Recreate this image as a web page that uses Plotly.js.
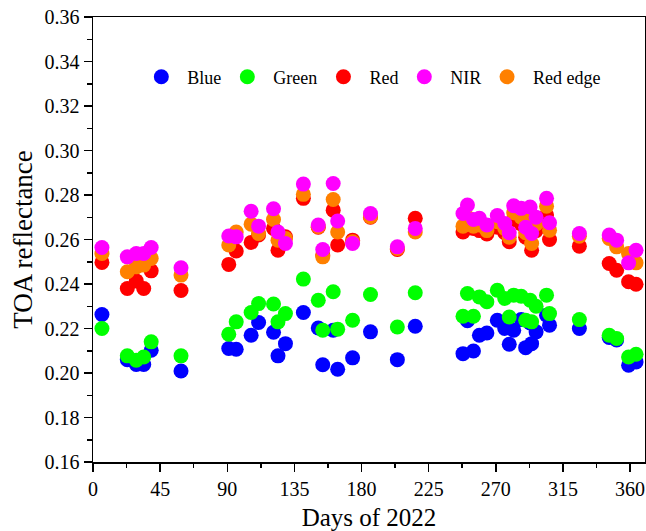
<!DOCTYPE html>
<html>
<head>
<meta charset="utf-8">
<script src="https://cdn.plot.ly/plotly-3.0.1.min.js"></script>
<style>
  html, body { margin: 0; padding: 0; background: #ffffff; }
  #chart { width: 646px; height: 531px; }
</style>
</head>
<body>
<div id="chart"></div>
<script>
// Day of year of each acquisition
const days = [6, 23, 29, 34, 39, 59, 91, 96, 106, 111, 121, 124, 129, 141, 151, 154, 161, 164, 174, 186, 204, 216,
  248, 251, 255, 259, 264, 271, 276, 279, 282, 287, 290, 293, 294, 297, 304, 306, 326, 346, 351, 359, 364];

const blue = [0.2263, 0.2060, 0.2038, 0.2038, 0.2102, 0.2009, 0.2110, 0.2107, 0.2170, 0.2227, 0.2183, 0.2077, 0.2132,
  0.2272, 0.2202, 0.2037, 0.2192, 0.2017, 0.2068, 0.2185, 0.2060, 0.2210,
  0.2087, 0.2235, 0.2099, 0.2170, 0.2180, 0.2237, 0.2200, 0.2129, 0.2192, 0.2240, 0.2114, 0.2225, 0.2132, 0.2185,
  0.2260, 0.2215, 0.2200, 0.2160, 0.2148, 0.2035, 0.2050];

const green = [0.2200, 0.2077, 0.2057, 0.2072, 0.2140, 0.2077, 0.2174, 0.2230, 0.2272, 0.2312, 0.2310, 0.2230, 0.2267,
  0.2422, 0.2327, 0.2192, 0.2365, 0.2197, 0.2237, 0.2353, 0.2207, 0.2361,
  0.2255, 0.2357, 0.2255, 0.2342, 0.2320, 0.2372, 0.2335, 0.2252, 0.2350, 0.2345, 0.2237, 0.2327, 0.2230, 0.2300,
  0.2350, 0.2267, 0.2240, 0.2170, 0.2155, 0.2072, 0.2084];

const red = [0.2497, 0.2380, 0.2414, 0.2380, 0.2459, 0.2371, 0.2488, 0.2548, 0.2587, 0.2620, 0.2650, 0.2552, 0.2612,
  0.2785, 0.2655, 0.2530, 0.2732, 0.2575, 0.2597, 0.2700, 0.2555, 0.2695,
  0.2634, 0.2665, 0.2650, 0.2640, 0.2625, 0.2655, 0.2630, 0.2590, 0.2690, 0.2670, 0.2610, 0.2665, 0.2552, 0.2640,
  0.2710, 0.2600, 0.2570, 0.2492, 0.2462, 0.2410, 0.2399];

const nir = [0.2564, 0.2522, 0.2537, 0.2537, 0.2564, 0.2473, 0.2616, 0.2612, 0.2727, 0.2660, 0.2738, 0.2634, 0.2582,
  0.2849, 0.2665, 0.2555, 0.2852, 0.2683, 0.2582, 0.2717, 0.2567, 0.2650,
  0.2717, 0.2755, 0.2690, 0.2695, 0.2665, 0.2708, 0.2672, 0.2630, 0.2752, 0.2740, 0.2655, 0.2746, 0.2627, 0.2700,
  0.2785, 0.2675, 0.2627, 0.2620, 0.2597, 0.2495, 0.2552];

const redEdge = [0.2537, 0.2455, 0.2477, 0.2485, 0.2515, 0.2440, 0.2575, 0.2634, 0.2669, 0.2627, 0.2690, 0.2597, 0.2605,
  0.2803, 0.2658, 0.2522, 0.2780, 0.2634, 0.2590, 0.2702, 0.2560, 0.2634,
  0.2660, 0.2700, 0.2660, 0.2665, 0.2640, 0.2680, 0.2650, 0.2610, 0.2720, 0.2700, 0.2630, 0.2700, 0.2582, 0.2670,
  0.2750, 0.2642, 0.2615, 0.2605, 0.2567, 0.2537, 0.2495];

const xTicks = [0, 45, 90, 135, 180, 225, 270, 315, 360];
const yTicks = [0.16, 0.18, 0.20, 0.22, 0.24, 0.26, 0.28, 0.30, 0.32, 0.34, 0.36];

function band(name, values, color, legendId) {
  return {
    type: 'scatter', mode: 'markers', name: name,
    x: days, y: values, legend: legendId,
    marker: { color: color, size: 15, line: { width: 0 } }
  };
}

// drawing order: NIR on top of Red edge, Red edge on top of Red
const data = [
  band('Blue', blue, '#0000ff', 'legend'),
  band('Green', green, '#00ff00', 'legend2'),
  band('Red', red, '#ff0000', 'legend3'),
  band('Red edge', redEdge, '#ff8000', 'legend5'),
  band('NIR', nir, '#ff00ff', 'legend4')
];

const font = 'Liberation Serif, Times New Roman, serif';

function legendAt(x) {
  return {
    orientation: 'h', x: x, xanchor: 'left', y: 0.865, yanchor: 'middle',
    font: { family: font, size: 18, color: '#000000' },
    bgcolor: 'rgba(0,0,0,0)', borderwidth: 0, itemwidth: 42
  };
}

const layout = {
  width: 646, height: 531,
  margin: { l: 93, r: 1, t: 17, b: 69, pad: 0 },
  paper_bgcolor: '#ffffff', plot_bgcolor: '#ffffff',
  font: { family: font, color: '#000000', size: 20 },
  showlegend: true,
  legend: legendAt(0.0767),
  legend2: legendAt(0.2325),
  legend3: legendAt(0.4066),
  legend4: legendAt(0.5531),
  legend5: legendAt(0.7030),
  xaxis: {
    range: [0, 370], tickmode: 'array', tickvals: xTicks, ticktext: xTicks.map(String),
    ticks: 'outside', ticklen: 8, tickwidth: 1.5, tickcolor: '#000',
    minor: { dtick: 22.5, tick0: 0, ticks: 'outside', ticklen: 4, tickwidth: 1.5, tickcolor: '#000' },
    showline: true, linecolor: '#000', linewidth: 1.5, mirror: true,
    showgrid: false, zeroline: false, automargin: false,
    tickfont: { family: font, size: 20, color: '#000' },
    title: { text: 'Days of 2022', font: { family: font, size: 25, color: '#000' }, standoff: 10 }
  },
  yaxis: {
    range: [0.16, 0.36], tickmode: 'array', tickvals: yTicks, ticktext: yTicks.map(v => v.toFixed(2)),
    ticks: 'outside', ticklen: 8, tickwidth: 1.5, tickcolor: '#000',
    minor: { dtick: 0.01, tick0: 0.16, ticks: 'outside', ticklen: 4.5, tickwidth: 1.5, tickcolor: '#000' },
    showline: true, linecolor: '#000', linewidth: 1.5, mirror: true,
    showgrid: false, zeroline: false, automargin: false,
    tickfont: { family: font, size: 20, color: '#000' },
    title: { text: 'TOA reflectance', font: { family: font, size: 27, color: '#000' }, standoff: 4 }
  }
};

Plotly.newPlot('chart', data, layout, { staticPlot: true, displayModeBar: false });
</script>
</body>
</html>
